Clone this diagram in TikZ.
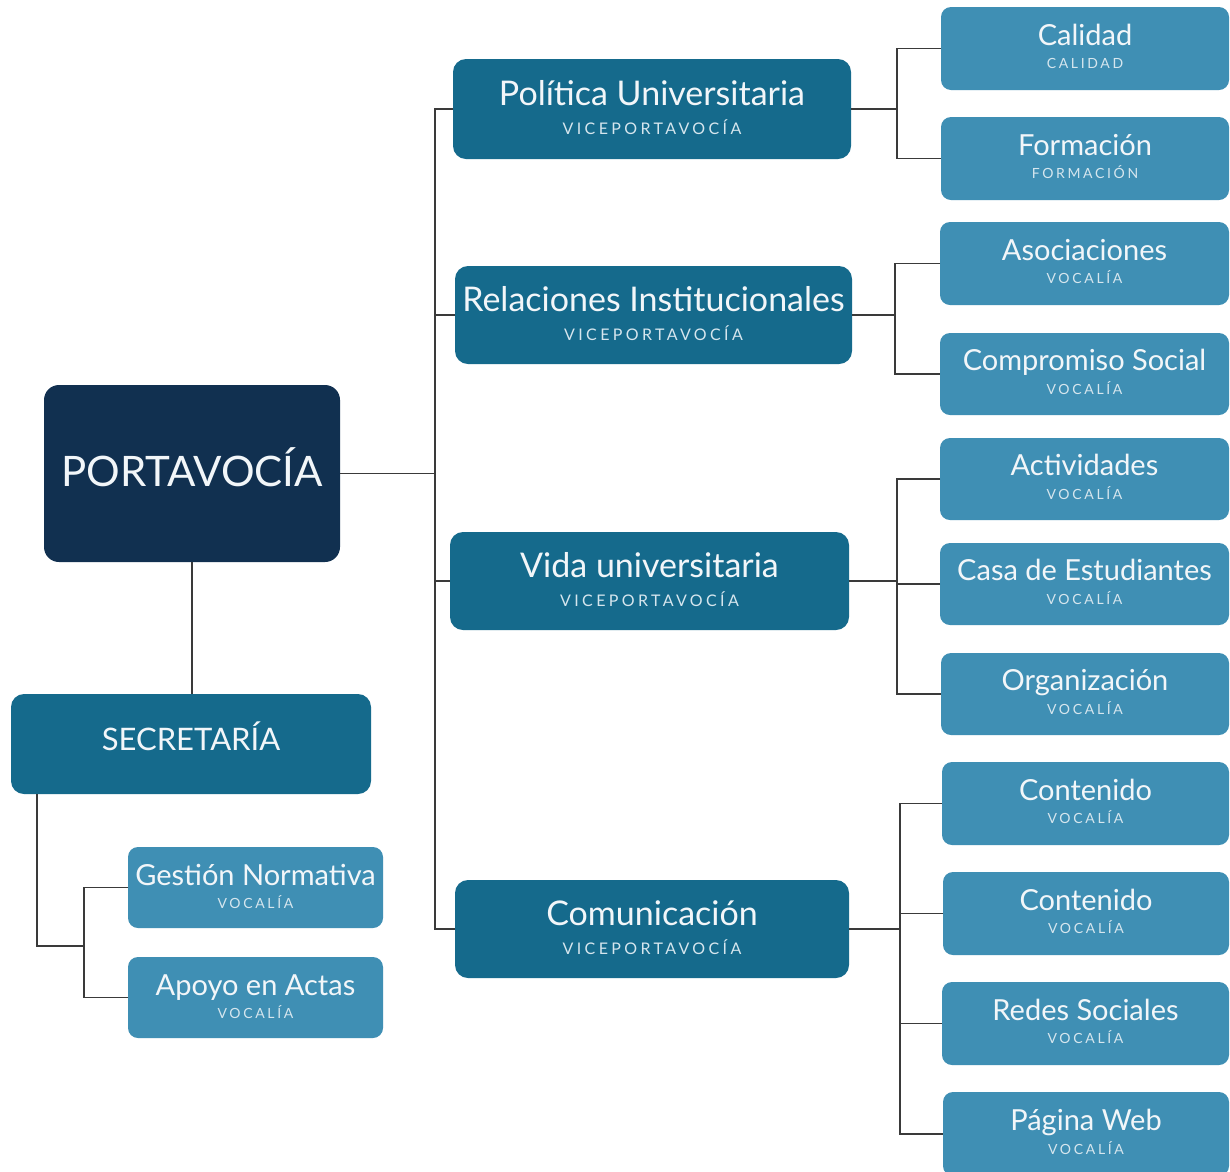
\documentclass[tikz,border=0pt]{standalone}
\usepackage{fontspec}
\setmainfont{Lato}
\newfontfamily\tfont{Lato}
\definecolor{navy}{RGB}{17,48,80}
\definecolor{midblue}{RGB}{21,106,140}
\definecolor{lightblue}{RGB}{63,143,180}
\definecolor{txt}{RGB}{242,246,249}
\definecolor{subtxt}{RGB}{214,230,238}
\definecolor{conncol}{RGB}{58,58,58}
\newcommand\ttl{\tfont\fontsize{29}{34}\selectfont}
\newcommand\ttlm{\tfont\fontsize{34}{40}\selectfont}
\newcommand\subm{\tfont\fontsize{16}{19}\addfontfeatures{LetterSpace=21}\selectfont}
\newcommand\subr{\tfont\fontsize{14}{17}\addfontfeatures{LetterSpace=19}\selectfont}
\tikzset{
  basebox/.style={inner sep=0pt,outer sep=0pt,draw=none},
  navybox/.style={basebox,fill=navy,rounded corners=15pt},
  midbox/.style={basebox,fill=midblue,rounded corners=13pt},
  lightbox/.style={basebox,fill=lightblue,rounded corners=10pt},
  ttext/.style={inner sep=0pt,anchor=base,text=txt,font=\ttl},
  stext/.style={inner sep=0pt,anchor=base,text=subtxt},
  conn/.style={draw=conncol,line width=1.6pt}
}
% #1 name #2 style #3 x1 #4 y1 #5 x2 #6 y2
\newcommand\mkbox[6]{%
  \node[#2,minimum width={(#5-#3)*1pt},minimum height={(#6-#4)*1pt}] (#1) at ({(#3+#5)/2},{(#4+#6)/2}) {};}
% mid box with title and subtitle
\newcommand\midb[7]{%
  \mkbox{#1}{midbox}{#2}{#3}{#4}{#5}
  \node[ttext,font=\ttlm] (#1-t) at ([yshift=4pt]#1.center) {#6};
  \node[stext,font=\subm] (#1-s) at ([yshift=-25pt]#1.center) {#7};}
\newcommand\rgtb[6]{%
  \mkbox{#1}{lightbox}{#2}{#3}{1229}{#4}
  \node[ttext] (#1-t) at ([yshift=3.5pt]#1.center) {#5};
  \node[stext,font=\subr] (#1-s) at ([yshift=-20pt]#1.center) {#6};}
\begin{document}
\begin{tikzpicture}[x=1pt,y=-1pt]
\useasboundingbox (0,0) rectangle (1230,1171);
\clip (0,0) rectangle (1230,1171);
\fill[white] (0,0) rectangle (1230,1171);

% main boxes
\mkbox{port}{navybox}{44}{385}{340}{562}
\node[ttext,font=\tfont\fontsize{42}{50}\selectfont] (port-t) at (192,486) {PORTAVOCÍA};
\mkbox{sec}{midbox}{11}{694}{371}{794}
\node[ttext,font=\tfont\fontsize{31}{37}\selectfont] (sec-t) at (191,750) {SECRETARÍA};

% secretaria children
\mkbox{ges}{lightbox}{128}{847}{383}{928}
\node[ttext] (ges-t) at ([yshift=2.5pt]ges.center) {Gestión Normativa};
\node[stext,font=\subr] (ges-s) at ([yshift=-20.5pt]ges.center) {VOCALÍA};
\mkbox{apo}{lightbox}{128}{957}{383}{1038}
\node[ttext] (apo-t) at ([yshift=2.5pt]apo.center) {Apoyo en Actas};
\node[stext,font=\subr] (apo-s) at ([yshift=-20.5pt]apo.center) {VOCALÍA};

% viceportavocias
\midb{pol}{453}{59}{851}{159}{Política Universitaria}{VICEPORTAVOCÍA}
\midb{rel}{455}{266}{852}{364}{Relaciones Institucionales}{VICEPORTAVOCÍA}
\midb{vid}{450}{532}{849}{630}{Vida universitaria}{VICEPORTAVOCÍA}
\midb{com}{455}{880}{849}{978}{Comunicación}{VICEPORTAVOCÍA}

% right column
\rgtb{cal}{941}{7}{90}{Calidad}{CALIDAD}
\rgtb{for}{941}{117}{200}{Formación}{FORMACIÓN}
\rgtb{aso}{940}{222}{305}{Asociaciones}{VOCALÍA}
\rgtb{cso}{940}{333}{415}{Compromiso Social}{VOCALÍA}
\rgtb{act}{940}{438}{520}{Actividades}{VOCALÍA}
\rgtb{cas}{940}{543}{625}{Casa de Estudiantes}{VOCALÍA}
\rgtb{org}{941}{653}{735}{Organización}{VOCALÍA}
\rgtb{con1}{942}{762}{845}{Contenido}{VOCALÍA}
\rgtb{con2}{943}{872}{955}{Contenido}{VOCALÍA}
\rgtb{red}{942}{982}{1065}{Redes Sociales}{VOCALÍA}
\rgtb{pag}{943}{1092}{1176}{Página Web}{VOCALÍA}

% junction coordinates
\coordinate (sp) at (435,0);
\coordinate (j1) at (897,0);
\coordinate (j2) at (895,0);
\coordinate (j3) at (897,0);
\coordinate (j4) at (900,0);
\coordinate (sx) at (37,946);
\coordinate (sj) at (84,946);

% connectors
\draw[conn] (port.south) -- (port.south |- sec.north);
\draw[conn] (port.east) -- (port.east -| sp);
\draw[conn] (pol.west) -- (pol.west -| sp) -- (com.west -| sp) -- (com.west);
\draw[conn] (rel.west) -- (rel.west -| sp);
\draw[conn] (vid.west) -- (vid.west -| sp);

\draw[conn] (sec.south -| sx) -- (sx) -- (sj);
\draw[conn] (ges.west) -- (ges.west -| sj) -- (apo.west -| sj) -- (apo.west);

\draw[conn] (pol.east) -- (pol.east -| j1);
\draw[conn] (cal.west) -- (cal.west -| j1) -- (for.west -| j1) -- (for.west);
\draw[conn] (rel.east) -- (rel.east -| j2);
\draw[conn] (aso.west) -- (aso.west -| j2) -- (cso.west -| j2) -- (cso.west);
\draw[conn] (vid.east) -- (vid.east -| j3);
\draw[conn] (act.west) -- (act.west -| j3) -- (org.west -| j3) -- (org.west);
\draw[conn] (cas.west) -- (cas.west -| j3);
\draw[conn] (com.east) -- (com.east -| j4);
\draw[conn] (con1.west) -- (con1.west -| j4) -- (pag.west -| j4) -- (pag.west);
\draw[conn] (con2.west) -- (con2.west -| j4);
\draw[conn] (red.west) -- (red.west -| j4);
\end{tikzpicture}
\end{document}
